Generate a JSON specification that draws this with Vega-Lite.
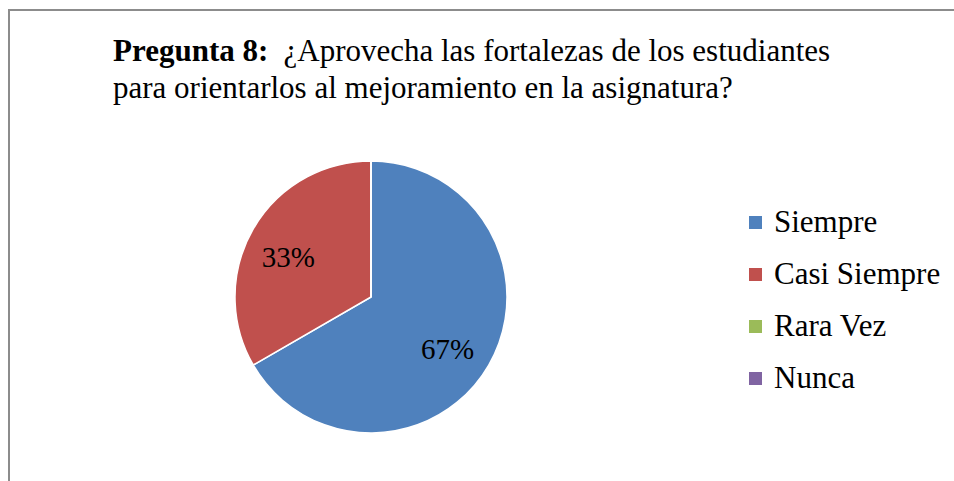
{
  "$schema": "https://vega.github.io/schema/vega-lite/v6.json",
  "autosize": {"type": "none"},
  "padding": {"left": 235, "top": 161, "right": 447, "bottom": 48},
  "width": 272,
  "height": 272,
  "background": "white",
  "config": {
    "view": {"stroke": null},
    "font": "Times New Roman",
    "legend": {"labelFont": "Times New Roman"},
    "text": {"font": "Times New Roman"}
  },
  "title": {
    "text": "Pregunta 8:",
    "subtitle": ["\u200b\u00a0\u00a0\u00a0\u00a0\u00a0\u00a0\u00a0\u00a0\u00a0\u00a0\u00a0\u00a0\u00a0\u00a0\u00a0\u00a0\u00a0\u00a0\u00a0\u00a0\u00a0\u00a0¿Aprovecha las fortalezas de los estudiantes", "para orientarlos al mejoramiento en la asignatura?"],
    "anchor": "start",
    "frame": "group",
    "dx": -122,
    "dy": 96,
    "offset": 0,
    "font": "Times New Roman",
    "fontSize": 31,
    "fontWeight": "bold",
    "color": "black",
    "lineHeight": 31,
    "subtitleFont": "Times New Roman",
    "subtitleFontSize": 31,
    "subtitleFontWeight": "normal",
    "subtitleColor": "black",
    "subtitleLineHeight": 37,
    "subtitlePadding": -31
  },
  "data": {
    "values": [
      {"respuesta": "Siempre", "valor": 0.6667, "orden": 1},
      {"respuesta": "Casi Siempre", "valor": 0.3333, "orden": 2},
      {"respuesta": "Rara Vez", "valor": 0, "orden": 3},
      {"respuesta": "Nunca", "valor": 0, "orden": 4}
    ]
  },
  "layer": [
    {
      "data": {"values": [{}]},
      "mark": {"type": "rect", "fill": null, "stroke": "#8c8c8c", "strokeWidth": 2},
      "encoding": {
        "x": {"value": -226},
        "x2": {"value": 730},
        "y": {"value": -151},
        "y2": {"value": 330}
      }
    },
    {
      "mark": {"type": "arc", "stroke": "white", "strokeWidth": 1.5},
      "encoding": {
        "theta": {"field": "valor", "type": "quantitative", "stack": true},
        "order": {"field": "orden", "type": "quantitative"},
        "color": {
          "field": "respuesta",
          "type": "nominal",
          "sort": ["Siempre", "Casi Siempre", "Rara Vez", "Nunca"],
          "scale": {
            "domain": ["Siempre", "Casi Siempre", "Rara Vez", "Nunca"],
            "range": ["#4F81BD", "#C0504D", "#9BBB59", "#8064A2"]
          },
          "legend": {
            "title": null,
            "orient": "none",
            "legendX": 505,
            "legendY": 46,
            "symbolType": "square",
            "symbolSize": 169,
            "symbolStrokeWidth": 0,
            "labelFont": "Times New Roman",
            "labelFontSize": 31,
            "labelColor": "black",
            "labelOffset": 3,
            "rowPadding": 20,
            "padding": 0,
            "labelLimit": 300
          }
        }
      }
    },
    {
      "transform": [{"filter": "datum.valor > 0"}],
      "mark": {"type": "text", "radius": 92, "dx": -3, "dy": 7, "font": "Times New Roman", "fontSize": 29, "color": "black"},
      "encoding": {
        "theta": {"field": "valor", "type": "quantitative", "stack": true},
        "order": {"field": "orden", "type": "quantitative"},
        "text": {"field": "valor", "type": "quantitative", "format": ".0%"}
      }
    }
  ]
}
